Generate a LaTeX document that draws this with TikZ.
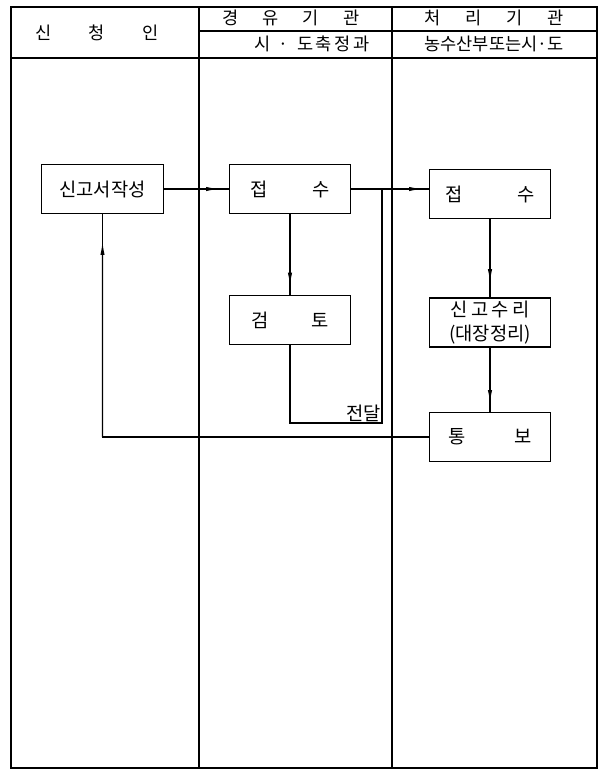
\documentclass[tikz,border=0pt]{standalone}
\usepackage{fontspec}
\newfontfamily\krfont{Noto Sans CJK KR}
\usetikzlibrary{arrows.meta,calc}

\begin{document}
\begin{tikzpicture}[x=0.03cm, y=-0.03cm,
        font=\krfont\fontsize{16}{20}\selectfont,
        procbox/.style={draw, line width=1.1pt, minimum width=3.65cm, minimum height=1.47cm, inner sep=0pt, align=center},
        headtext/.style={font=\krfont\fontsize{15}{17}\selectfont, inner sep=0pt},
        flow/.style={line width=1.1pt},
        tip/.style={flow, -{Latex[length=12pt,width=3.6pt]}}]
    \useasboundingbox (0,0) rectangle (601,773);
    % frame and lanes
    \draw[line width=1.5pt] (11,7) rectangle (597,768);
    \draw[line width=1.1pt] (199,7) -- (199,768) (392,7) -- (392,768);
    \draw[line width=1.3pt] (11,58) -- (597,58);
    \draw[line width=1pt] (199,31) -- (597,31);

    % header
    \node[headtext](hd1) at (97,33) {신\hspace{1.12cm}청\hspace{1.12cm}인};
    \node[headtext](hd2) at (291,18) {경\hspace{0.72cm}유\hspace{0.72cm}기\hspace{0.72cm}관};
    \node[headtext](hd2s) at (312,44) {시\hspace{0.25cm}·\hspace{0.25cm}도\hspace{0.08cm}축\hspace{0.08cm}정\hspace{0.08cm}과};
    \node[headtext](hd3) at (494,18) {처\hspace{0.74cm}리\hspace{0.74cm}기\hspace{0.74cm}관};
    \node[headtext](hd3s) at (494,44) {농수산부또는시·도};

    % steps
    \node[procbox](wr) at (102.5,189) {신고서작성};
    \node[procbox](rc2) at (290,189) {접\hspace{1.33cm}수};
    \node[procbox](rv) at (290,320) {검\hspace{1.27cm}토};
    \node[procbox](rc3) at (490,194) {접\hspace{1.63cm}수};
    \node[procbox](ac) at (490,322.5) {신\hspace{0.1cm}고\hspace{0.1cm}수\hspace{0.1cm}리\\(대장정리)};
    \node[procbox](nt) at (490,437) {통\hspace{1.48cm}보};

    \coordinate (lp) at (382,423);
    \coordinate (bk) at (nt.west -| wr.south);
    \node[anchor=south east, inner sep=1pt](lb) at (lp) {전달};

    % connectors, arrow tips sit just short of the boxes
    \draw[flow] (wr.east) -- (wr.east -| rc2.west);
    \draw[tip] (wr.east) -- ($(wr.east)!0.87!(wr.east -| rc2.west)$);
    \draw[flow] (rc2.east) -- (rc2.east -| rc3.west);
    \draw[tip] (rc2.east) -- ($(rc2.east)!0.93!(rc2.east -| rc3.west)$);
    \draw[flow] (rc2.south) -- (rc2.south |- rv.north);
    \draw[tip] (rc2.south) -- ($(rc2.south)!0.9!(rc2.south |- rv.north)$);
    \draw[flow] (rc3.south) -- (rc3.south |- ac.north);
    \draw[tip] (rc3.south) -- ($(rc3.south)!0.82!(rc3.south |- ac.north)$);
    \draw[flow] (ac.south) -- (ac.south |- nt.north);
    \draw[tip] (ac.south) -- ($(ac.south)!0.88!(ac.south |- nt.north)$);
    \draw[flow] (nt.west) -- (bk) -- (wr.south);
    \draw[tip] (bk) -- ($(bk)!0.88!(wr.south)$);
    \draw[flow] (rv.south) |- (lp) -- (lp |- rc2.east);
\end{tikzpicture}
\end{document}
